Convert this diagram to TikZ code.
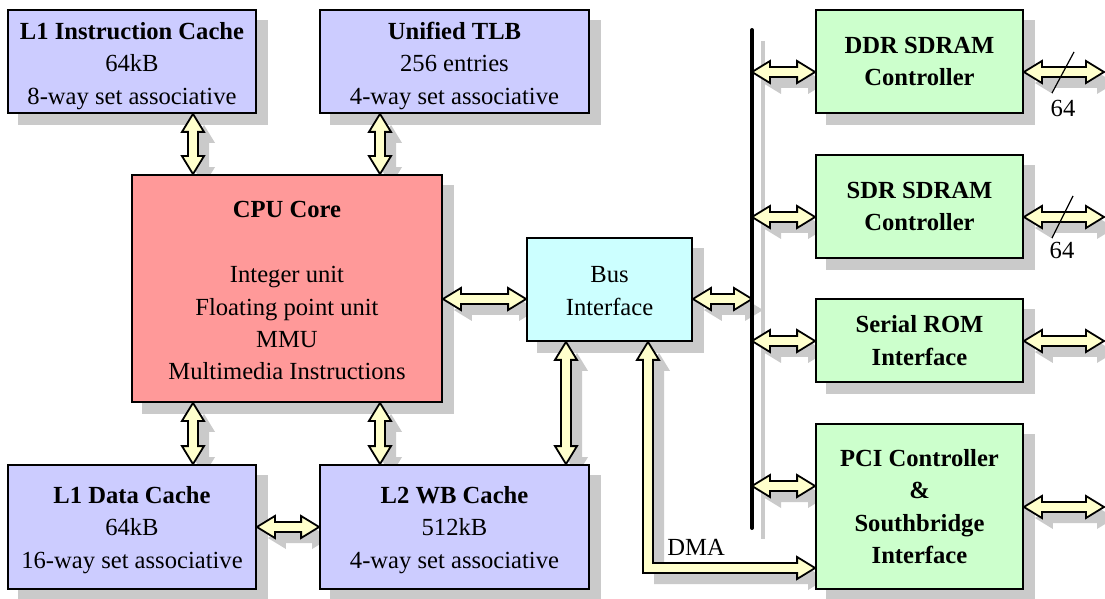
\documentclass[tikz,border=0pt]{standalone}
\usepackage{fontspec}
\setmainfont{Liberation Serif}
\usetikzlibrary{calc}
\pgfdeclarelayer{background}
\pgfsetlayers{background,main}
\definecolor{boxblue}{HTML}{CCCCFF}
\definecolor{cpured}{HTML}{FF9999}
\definecolor{buscyan}{HTML}{CCFFFF}
\definecolor{boxgreen}{HTML}{CCFFCC}
\definecolor{arrowy}{HTML}{FFFFCC}
\definecolor{shadowc}{HTML}{CACACA}
\tikzset{
  blk/.style={draw=black, line width=0.9pt, inner sep=0pt, align=center,
    font=\fontsize{12.3}{16.2}\selectfont},
  bluebox/.style={blk, fill=boxblue},
  greenbox/.style={blk, fill=boxgreen, font=\fontsize{12.3}{16.2}\selectfont\bfseries},
  fatarrow/.style={draw=black, fill=arrowy, line width=0.9pt, line join=miter},
  shadowfill/.style={fill=shadowc, draw=none, transform canvas={xshift=5.5pt,yshift=-5.5pt}},
  lbl/.style={inner sep=0pt, font=\fontsize{12.3}{16.2}\selectfont},
}
\newcommand{\lift}[1]{\rule{0pt}{#1}}
\newcommand{\HArrPath}{(\x1,\y1) -- (\x1+9pt,\y1+5.5pt) -- (\x1+9pt,\y1+2.5pt) -- (\x2-9pt,\y1+2.5pt) -- (\x2-9pt,\y1+5.5pt) -- (\x2,\y1) -- (\x2-9pt,\y1-5.5pt) -- (\x2-9pt,\y1-2.5pt) -- (\x1+9pt,\y1-2.5pt) -- (\x1+9pt,\y1-5.5pt) -- cycle}
\newcommand{\VArrPath}{(\x1,\y1) -- (\x1+5.5pt,\y1-9pt) -- (\x1+2.5pt,\y1-9pt) -- (\x1+2.5pt,\y2+9pt) -- (\x1+5.5pt,\y2+9pt) -- (\x1,\y2) -- (\x1-5.5pt,\y2+9pt) -- (\x1-2.5pt,\y2+9pt) -- (\x1-2.5pt,\y1-9pt) -- (\x1-5.5pt,\y1-9pt) -- cycle}
\newcommand{\LArrPath}{(\x1,\y1) -- (\x1+5.5pt,\y1-9pt) -- (\x1+2.5pt,\y1-9pt) -- (\x1+2.5pt,\y2+2.5pt) -- (\x2-9pt,\y2+2.5pt) -- (\x2-9pt,\y2+5.5pt) -- (\x2,\y2) -- (\x2-9pt,\y2-5.5pt) -- (\x2-9pt,\y2-2.5pt) -- (\x1-2.5pt,\y2-2.5pt) -- (\x1-2.5pt,\y1-9pt) -- (\x1-5.5pt,\y1-9pt) -- cycle}
\newcommand{\hdarr}[2]{%
  \begin{pgfonlayer}{background}
  \path[shadowfill] let \p1=#1, \p2=#2 in \HArrPath;
  \end{pgfonlayer}
  \path[fatarrow] let \p1=#1, \p2=#2 in \HArrPath;}
\newcommand{\vdarr}[2]{%
  \begin{pgfonlayer}{background}
  \path[shadowfill] let \p1=#1, \p2=#2 in \VArrPath;
  \end{pgfonlayer}
  \path[fatarrow] let \p1=#1, \p2=#2 in \VArrPath;}
\newcommand{\ldarr}[2]{%
  \begin{pgfonlayer}{background}
  \path[shadowfill] let \p1=#1, \p2=#2 in \LArrPath;
  \end{pgfonlayer}
  \path[fatarrow] let \p1=#1, \p2=#2 in \LArrPath;}
\newcommand{\bshadow}[1]{%
  \begin{pgfonlayer}{background}
  \path[shadowfill] (#1.south west) rectangle (#1.north east);
  \end{pgfonlayer}}
\begin{document}
\begin{tikzpicture}[x=0.5pt, y=-0.5pt]
\useasboundingbox (0,0) rectangle (1105,599);

% boxes
\node[bluebox, minimum width=124pt, minimum height=51.5pt] (l1i) at (132,61.5)
  {\lift{13pt}\textbf{L1 Instruction Cache}\\64kB\\8-way set associative};
\node[bluebox, minimum width=134.5pt, minimum height=51.5pt] (tlb) at (454.5,61.5)
  {\lift{13pt}\textbf{Unified TLB}\\256 entries\\4-way set associative};
\node[blk, fill=cpured, minimum width=155pt, minimum height=113.5pt] (cpu) at (287,288.5)
  {\lift{10.5pt}\textbf{CPU Core}\\[16.2pt]Integer unit\\Floating point unit\\MMU\\Multimedia Instructions};
\node[blk, fill=buscyan, minimum width=82.5pt, minimum height=51.5pt] (bus) at (609.5,289.5)
  {\lift{9.5pt}Bus\\Interface};
\node[bluebox, minimum width=124pt, minimum height=62pt] (l1d) at (132,527)
  {\lift{11.5pt}\textbf{L1 Data Cache}\\64kB\\16-way set associative};
\node[bluebox, minimum width=134.5pt, minimum height=62pt] (l2) at (454.5,527)
  {\lift{11.5pt}\textbf{L2 WB Cache}\\512kB\\4-way set associative};
\node[greenbox, minimum width=103.5pt, minimum height=51.5pt] (ddr) at (919.5,61.5)
  {DDR SDRAM\\Controller};
\node[greenbox, minimum width=103.5pt, minimum height=51.5pt] (sdr) at (919.5,206.5)
  {SDR SDRAM\\Controller};
\node[greenbox, minimum width=103.5pt, minimum height=41.5pt] (srom) at (919.5,340.5)
  {Serial ROM\\Interface};
\node[greenbox, minimum width=103.5pt, minimum height=82.5pt] (pci) at (919.5,506.5)
  {PCI Controller\\\&\\Southbridge\\Interface};

\foreach \b in {l1i,tlb,cpu,bus,l1d,l2,ddr,sdr,srom,pci} {\bshadow{\b}}

% bus bar
\coordinate (bartop) at (752,30);
\coordinate (barbot) at (752,528);
\coordinate (ddrout) at (1104,72);
\coordinate (sdrout) at (1104,217);
\coordinate (sromout) at (1104,341);
\coordinate (pciout) at (1104,507);

% connectors
\vdarr{(193,0 |- l1i.south)}{(193,0 |- cpu.north)}
\vdarr{(380,0 |- tlb.south)}{(380,0 |- cpu.north)}
\vdarr{(193,0 |- cpu.south)}{(193,0 |- l1d.north)}
\vdarr{(380,0 |- cpu.south)}{(380,0 |- l2.north)}
\vdarr{(566,0 |- bus.south)}{(566,0 |- l2.north)}
\hdarr{(l1d.east)}{(l2.west)}
\hdarr{(cpu.east |- 0,299)}{(bus.west |- 0,299)}
\hdarr{(bus.east |- 0,299)}{(bartop |- 0,299)}
\hdarr{(bartop |- 0,72)}{(ddr.west |- 0,72)}
\hdarr{(bartop |- 0,217)}{(sdr.west |- 0,217)}
\hdarr{(bartop |- 0,341)}{(srom.west |- 0,341)}
\hdarr{(bartop |- 0,486)}{(pci.west |- 0,486)}
\hdarr{(ddr.east |- ddrout)}{(ddrout)}
\hdarr{(sdr.east |- sdrout)}{(sdrout)}
\hdarr{(srom.east |- sromout)}{(sromout)}
\hdarr{(pci.east |- pciout)}{(pciout)}
\ldarr{(648,0 |- bus.south)}{(pci.west |- 0,568)}

\begin{pgfonlayer}{background}
\draw[shadowc, line width=2pt, transform canvas={xshift=5.5pt,yshift=-5.5pt}] (bartop) -- (barbot);
\end{pgfonlayer}
\draw[black, line width=2pt, line cap=round] (bartop) -- (barbot);

% width marks
\draw[line width=0.6pt] (1052,93) -- (1074,52);
\node[lbl] (w1) at (1063,108) {64};
\draw[line width=0.6pt] (1052,238) -- (1073,196);
\node[lbl] (w2) at (1062,250) {64};
\node[lbl, anchor=west] (dma) at (667,547) {DMA};
\end{tikzpicture}
\end{document}
